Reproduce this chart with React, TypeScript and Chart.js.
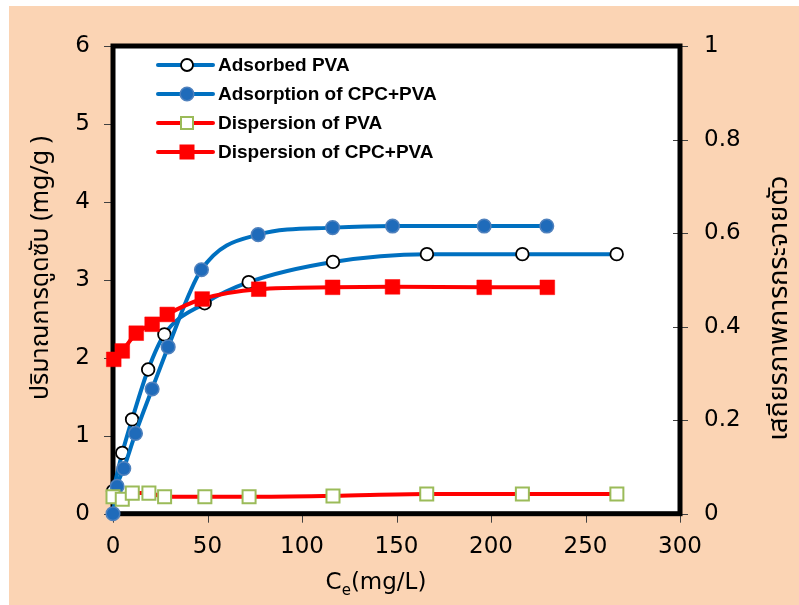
import React, { useEffect, useRef } from 'react';
import { Chart, registerables } from 'chart.js';

Chart.register(...registerables);

// ---- data ----
const ceAdsorbedPVA = [0, 4.9, 10.1, 18.6, 27.2, 48.5, 71.8, 116.4, 166.1, 216.6, 266.5];
const qAdsorbedPVA = [0.29, 0.78, 1.21, 1.85, 2.3, 2.7, 2.97, 3.23, 3.33, 3.33, 3.33];

const ceAdsorptionCPCPVA = [0, 2.2, 5.7, 11.9, 20.7, 29.2, 46.8, 76.8, 116.2, 147.9, 196.4, 229.5];
const qAdsorptionCPCPVA = [0, 0.35, 0.58, 1.03, 1.6, 2.14, 3.13, 3.58, 3.67, 3.69, 3.69, 3.69];

const ceDispersionPVA = [0, 4.9, 10.2, 19.0, 27.3, 48.6, 72.0, 116.4, 166.0, 216.6, 266.6];
const stabDispersionPVA = [0.036, 0.031, 0.044, 0.044, 0.036, 0.036, 0.036, 0.038, 0.042, 0.042, 0.042];

const ceDispersionCPCPVA = [0.4, 4.9, 12.3, 20.7, 28.7, 47.2, 77.1, 116.2, 147.9, 196.4, 229.8];
const stabDispersionCPCPVA = [0.33, 0.348, 0.386, 0.405, 0.426, 0.459, 0.48, 0.484, 0.485, 0.484, 0.484];

const seriesLabels = ['Adsorbed PVA', 'Adsorption of CPC+PVA', 'Dispersion of PVA', 'Dispersion of CPC+PVA'];
const xTitleMain = 'C';
const xTitleSub = 'e';
const xTitleRest = '(mg/L)';
const yLeftTitle = 'ปริมาณการดูดซับ (mg/g )';
const yRightTitle = 'เสถียรภาพการกระจายตัว';

const W = 790;
const H = 599;
const BLUE = '#0070C0';
const RED = '#FF0000';
const CIRCLE_FILL = '#1F6BBA';
const CIRCLE_EDGE = '#4F81BD';
const GREEN = '#9BBB59';
const TICK_FONT = "'DejaVu Sans', 'Liberation Sans', sans-serif";
const LEGEND_FONT = "bold 19px 'Liberation Sans', Arial, sans-serif";
const THAI_FAMILY = "'Noto Sans Thai', Tahoma, 'Liberation Sans', 'DejaVu Sans', sans-serif";

function pts(xs: number[], ys: number[]) {
  return xs.map((x, i) => ({ x, y: ys[i] }));
}

const decorPlugin = {
  id: 'decor',
  beforeDraw(chart: any) {
    const { ctx, chartArea: a } = chart;
    ctx.save();
    ctx.fillStyle = '#FFFFFF';
    ctx.fillRect(a.left, a.top, a.right - a.left, a.bottom - a.top);
    ctx.restore();
  },
  beforeDatasetsDraw(chart: any) {
    const { ctx, chartArea: a, scales } = chart;
    ctx.save();
    ctx.strokeStyle = '#404040';
    ctx.lineWidth = 1;
    ctx.beginPath();
    scales.y.ticks.forEach((t: any) => {
      const py = Math.round(scales.y.getPixelForValue(t.value)) + 0.5;
      ctx.moveTo(a.left - 9, py);
      ctx.lineTo(a.left, py);
    });
    scales.x.ticks.forEach((t: any) => {
      const px = Math.round(scales.x.getPixelForValue(t.value)) + 0.5;
      ctx.moveTo(px, a.bottom);
      ctx.lineTo(px, a.bottom + 9);
    });
    scales.y2.ticks.forEach((t: any) => {
      const py = Math.round(scales.y2.getPixelForValue(t.value)) + 0.5;
      ctx.moveTo(a.right - 7, py);
      ctx.lineTo(a.right + 8, py);
    });
    ctx.stroke();
    ctx.strokeStyle = '#000000';
    ctx.lineWidth = 5;
    ctx.strokeRect(a.left, a.top, a.right - a.left, a.bottom - a.top);
    ctx.restore();
  },
  afterDraw(chart: any) {
    const { ctx } = chart;
    ctx.save();
    // legend
    const rows = [59, 88, 117, 146];
    const x0 = 149, x1 = 204, mx = 178, tx = 209;
    rows.forEach((ry, i) => {
      ctx.strokeStyle = i < 2 ? BLUE : RED;
      ctx.lineWidth = 4;
      ctx.lineCap = 'round';
      ctx.beginPath();
      ctx.moveTo(x0, ry);
      ctx.lineTo(x1, ry);
      ctx.stroke();
      ctx.lineCap = 'butt';
      if (i === 0) {
        ctx.beginPath();
        ctx.arc(mx, ry, 6, 0, Math.PI * 2);
        ctx.fillStyle = '#FFFFFF';
        ctx.fill();
        ctx.lineWidth = 1.8;
        ctx.strokeStyle = '#000000';
        ctx.stroke();
      } else if (i === 1) {
        ctx.beginPath();
        ctx.arc(mx, ry, 6.8, 0, Math.PI * 2);
        ctx.fillStyle = CIRCLE_FILL;
        ctx.fill();
        ctx.lineWidth = 1.5;
        ctx.strokeStyle = CIRCLE_EDGE;
        ctx.stroke();
      } else if (i === 2) {
        ctx.fillStyle = '#FFFFFF';
        ctx.fillRect(mx - 6, ry - 6, 12, 12);
        ctx.lineWidth = 2;
        ctx.strokeStyle = GREEN;
        ctx.strokeRect(mx - 6, ry - 6, 12, 12);
      } else {
        ctx.fillStyle = RED;
        ctx.fillRect(mx - 7.5, ry - 7.5, 15, 15);
      }
      ctx.fillStyle = '#000000';
      ctx.font = LEGEND_FONT;
      ctx.textAlign = 'left';
      ctx.textBaseline = 'middle';
      ctx.fillText(seriesLabels[i], tx, ry + 1);
    });

    // x title with subscript
    ctx.fillStyle = '#000000';
    ctx.textBaseline = 'alphabetic';
    ctx.textAlign = 'left';
    const fMain = "23px 'DejaVu Sans', sans-serif";
    const fSub = "15px 'DejaVu Sans', sans-serif";
    ctx.font = fMain;
    const wC = ctx.measureText(xTitleMain).width;
    const wR = ctx.measureText(xTitleRest).width;
    ctx.font = fSub;
    const wE = ctx.measureText(xTitleSub).width;
    const total = wC + wE + wR;
    let sx = 367 - total / 2;
    const by = 583;
    ctx.font = fMain;
    ctx.fillText(xTitleMain, sx, by);
    sx += wC;
    ctx.font = fSub;
    ctx.fillText(xTitleSub, sx, by + 6);
    sx += wE;
    ctx.font = fMain;
    ctx.fillText(xTitleRest, sx, by);

    // rotated y titles
    ctx.textAlign = 'center';
    ctx.save();
    ctx.font = '25px ' + THAI_FAMILY;
    ctx.translate(39, 262);
    ctx.rotate(-Math.PI / 2);
    ctx.fillText(yLeftTitle, 0, 0);
    ctx.restore();
    ctx.save();
    ctx.font = '27px ' + THAI_FAMILY;
    ctx.translate(778, 302);
    ctx.rotate(-Math.PI / 2);
    ctx.fillText(yRightTitle, 0, 0);
    ctx.restore();

    ctx.restore();
  },
};

export default function App() {
  const ref = useRef<HTMLCanvasElement | null>(null);
  useEffect(() => {
    if (!ref.current) return;
    const tickFont = { family: TICK_FONT, size: 23 };
    const chart = new Chart(ref.current, {
      type: 'line',
      data: {
        datasets: [
          {
            label: seriesLabels[0],
            data: pts(ceAdsorbedPVA, qAdsorbedPVA),
            yAxisID: 'y',
            borderColor: BLUE,
            borderWidth: 4,
            pointRadius: 6.3,
            pointBackgroundColor: '#FFFFFF',
            pointBorderColor: '#000000',
            pointBorderWidth: 1.8,
            cubicInterpolationMode: 'monotone',
            clip: false,
            order: 3,
          },
          {
            label: seriesLabels[1],
            data: pts(ceAdsorptionCPCPVA, qAdsorptionCPCPVA),
            yAxisID: 'y',
            borderColor: BLUE,
            borderWidth: 4,
            pointRadius: 6.8,
            pointBackgroundColor: CIRCLE_FILL,
            pointBorderColor: CIRCLE_EDGE,
            pointBorderWidth: 1.5,
            cubicInterpolationMode: 'monotone',
            clip: false,
            order: 2,
          },
          {
            label: seriesLabels[2],
            data: pts(ceDispersionPVA, stabDispersionPVA),
            yAxisID: 'y2',
            borderColor: RED,
            borderWidth: 4,
            pointStyle: 'rect',
            pointRadius: 9.2,
            pointBackgroundColor: '#FFFFFF',
            pointBorderColor: GREEN,
            pointBorderWidth: 2,
            cubicInterpolationMode: 'monotone',
            clip: false,
            order: 1,
          },
          {
            label: seriesLabels[3],
            data: pts(ceDispersionCPCPVA, stabDispersionCPCPVA),
            yAxisID: 'y2',
            borderColor: RED,
            borderWidth: 4,
            pointStyle: 'rect',
            pointRadius: 10.4,
            pointBackgroundColor: RED,
            pointBorderColor: RED,
            pointBorderWidth: 0.5,
            cubicInterpolationMode: 'monotone',
            clip: false,
            order: 0,
          },
        ],
      },
      options: {
        animation: false,
        responsive: false,
        maintainAspectRatio: false,
        layout: { padding: { top: 40, left: 0, right: 0, bottom: 0 } },
        plugins: { legend: { display: false }, tooltip: { enabled: false }, title: { display: false } },
        scales: {
          x: {
            type: 'linear',
            min: 0,
            max: 300,
            ticks: { stepSize: 50, color: '#000000', font: tickFont, padding: 20, maxRotation: 0, autoSkip: false },
            grid: { display: false, drawTicks: false },
            border: { display: false },
            afterFit: (s: any) => { s.height = 91.3; },
          },
          y: {
            type: 'linear',
            position: 'left',
            min: 0,
            max: 6,
            ticks: { stepSize: 1, color: '#000000', font: tickFont, padding: 23 },
            grid: { display: false, drawTicks: false },
            border: { display: false },
            afterFit: (s: any) => { s.width = 104; },
          },
          y2: {
            type: 'linear',
            position: 'right',
            min: 0,
            max: 1,
            ticks: {
              stepSize: 0.2,
              color: '#000000',
              font: tickFont,
              padding: 24,
              callback: (v: any) => String(Math.round(Number(v) * 10) / 10),
            },
            grid: { display: false, drawTicks: false },
            border: { display: false },
            afterFit: (s: any) => { s.width = 119; },
          },
        },
      },
      plugins: [decorPlugin],
    } as any);
    return () => chart.destroy();
  }, []);

  return (
    <div style={{ position: 'absolute', left: 9, top: 6, width: W, height: H, background: '#FBD4B4' }}>
      <canvas ref={ref} width={W} height={H} style={{ display: 'block', width: W, height: H }} />
    </div>
  );
}
